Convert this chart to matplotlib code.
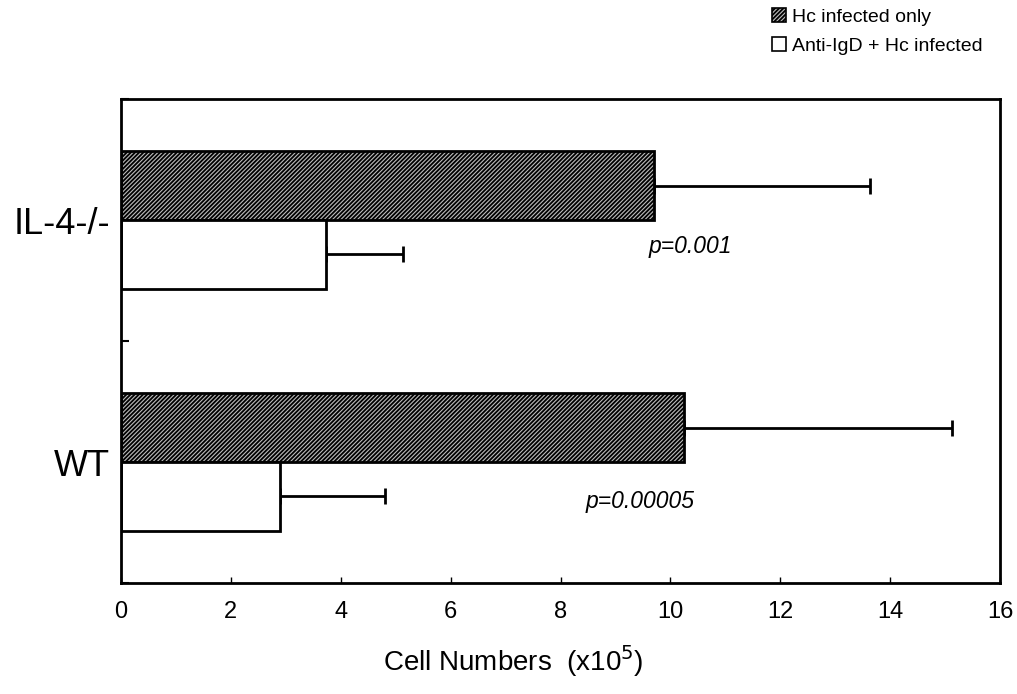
import matplotlib
matplotlib.use("Agg")
import matplotlib.pyplot as plt
import numpy as np
from matplotlib.patches import Patch

plt.rcParams['font.family'] = ['Liberation Sans', 'DejaVu Sans']
plt.rcParams['hatch.linewidth'] = 1.3

groups = ['WT', 'IL-4-/-']
hc_only = [10.25, 9.70]
hc_only_err = [4.88, 3.93]
anti_igd = [2.89, 3.73]
anti_igd_err = [1.92, 1.40]
p_labels = ['p=0.00005', 'p=0.001']
series_names = ['Hc infected only', 'Anti-IgD + Hc infected']
x_ticks = [0, 2, 4, 6, 8, 10, 12, 14, 16]

fig = plt.figure(figsize=(10.17, 6.94), dpi=100)
ax = fig.add_axes([121/1017, 1-583/694, (1000-121)/1017, (583-99)/694])

centers = np.arange(len(groups)) + 0.5
h = 0.285
ax.barh(centers + h/2, hc_only, height=h, color='#bbbbbb', edgecolor='black',
        hatch='////////', linewidth=2, zorder=2)
ax.barh(centers - h/2, anti_igd, height=h, color='white', edgecolor='black',
        linewidth=2, zorder=2)
ax.errorbar(hc_only, centers + h/2, xerr=[np.zeros(len(groups)), hc_only_err],
            fmt='none', ecolor='black', elinewidth=2, capsize=5.5, capthick=2, zorder=1)
ax.errorbar(anti_igd, centers - h/2, xerr=[np.zeros(len(groups)), anti_igd_err],
            fmt='none', ecolor='black', elinewidth=2, capsize=5.5, capthick=2, zorder=1)

# p-value annotations
ax.text(8.45, 0.5 - 0.165, p_labels[0], style='italic', fontsize=16.5, va='center', ha='left')
ax.text(9.6, 1.5 - 0.11, p_labels[1], style='italic', fontsize=16.5, va='center', ha='left')

ax.set_xlim(0, 16)
ax.set_ylim(0, 2)
ax.set_xticks(x_ticks)
ax.set_xticklabels([str(t) for t in x_ticks], fontsize=17)
ax.tick_params(axis='x', direction='in', length=4, width=1, pad=13)
ax.set_yticks(centers)
ax.set_yticklabels(groups, fontsize=26)
ax.tick_params(axis='y', length=0, pad=8)
ax.set_yticks([0, 1, 2], minor=True)
ax.tick_params(axis='y', which='minor', direction='in', length=6, width=1.5)
for s in ax.spines.values():
    s.set_linewidth(2)

ax.set_xlabel('Cell Numbers  (x10$^5$)', fontsize=20)
ax.xaxis.set_label_coords(0.446, -0.125)

handles = [Patch(facecolor='#bbbbbb', edgecolor='black', hatch='////////', linewidth=1.2),
           Patch(facecolor='white', edgecolor='black', linewidth=1.2)]
fig.legend(handles, series_names, loc='upper left', bbox_to_anchor=(758/1017, 1 + 6/694),
           frameon=False, fontsize=14, handlelength=0.75, handleheight=0.75,
           handletextpad=0.3, labelspacing=0.6, borderpad=0.2)

fig.savefig('out.png', dpi=100)
